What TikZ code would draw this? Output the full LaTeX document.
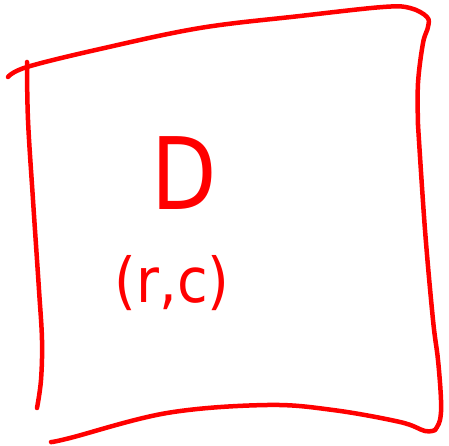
\documentclass[tikz,border=0pt]{standalone}
\usepackage{fontspec}
\setmainfont{DejaVu Sans}
\usetikzlibrary{positioning}

\begin{document}
\begin{tikzpicture}[
  x=1pt, y=-1pt,
  ink/.style={draw=red, line width=4.5pt, line cap=round, line join=round},
  scrawl/.style={text=red, inner sep=0pt, anchor=center}
]
  \useasboundingbox (0,0) rectangle (449,446);

  % sketched frame
  \draw[ink] plot[smooth, tension=0.6] coordinates {(8,77) (27,67) (100,49) (200,28) (300,16) (383,7) (410,8) (427,17) (428,27) (423,43) (418,83) (418,125)};
  \draw[ink] plot[smooth, tension=0.6] coordinates {(418,125) (425,230) (433,320) (438,360) (441,400) (440,420) (435,430)};
  \draw[ink] plot[smooth, tension=0.6] coordinates {(27,62) (28,120) (33,200) (39,290) (42,340) (41,380) (37,408)};
  \draw[ink] plot[smooth, tension=0.6] coordinates {(51,442) (70,438) (167,413) (267,405) (333,410) (400,422) (425,431) (435,430)};

  % labels
  \node[scrawl, font=\fontsize{100}{100}\selectfont, xscale=0.85] (dom) at (184,173) {D};
  \node[scrawl, font=\fontsize{62}{62}\selectfont, xscale=0.9, below=46pt of dom, xshift=-13pt] (pos) {(r,c)};
\end{tikzpicture}
\end{document}
